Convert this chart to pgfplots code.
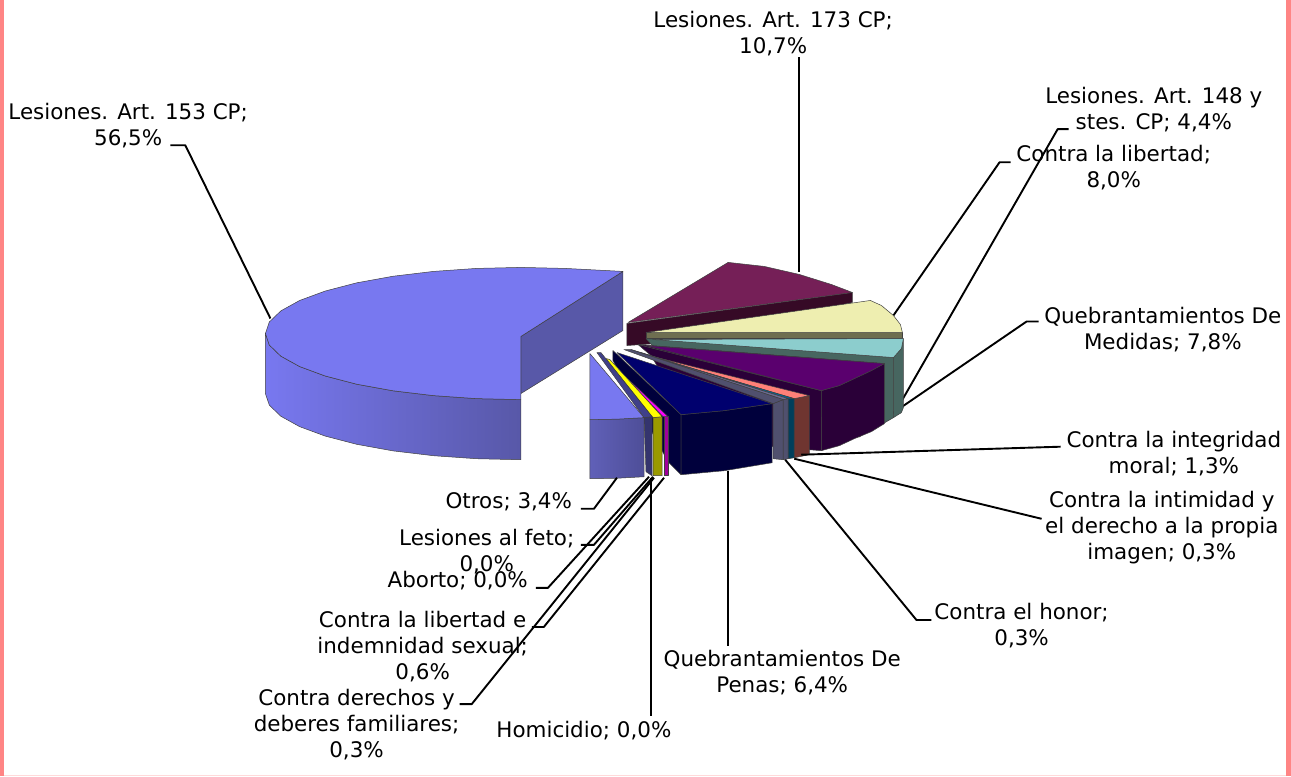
\documentclass[border=0pt]{standalone}
\usepackage{pgfplots}
\pgfplotsset{compat=1.18}
\usepackage{fontspec}
\setmainfont{DejaVu Sans}
\definecolor{bigT}{HTML}{7878F0}\definecolor{bigS}{HTML}{5858A8}
\definecolor{marT}{HTML}{751F57}\definecolor{marS}{HTML}{360A26}
\definecolor{creT}{HTML}{EEEEB0}\definecolor{creS}{HTML}{6E6E50}
\definecolor{teaT}{HTML}{8CCDCD}\definecolor{teaS}{HTML}{476660}
\definecolor{purT}{HTML}{5A006E}\definecolor{purS}{HTML}{2A0038}
\definecolor{salT}{HTML}{FF8078}\definecolor{salS}{HTML}{6F3530}
\definecolor{bluT}{HTML}{006699}\definecolor{bluS}{HTML}{003F5C}
\definecolor{gryT}{HTML}{6A6A90}\definecolor{gryS}{HTML}{50506E}
\definecolor{navT}{HTML}{00006E}\definecolor{navS}{HTML}{00003C}
\definecolor{magT}{HTML}{FF00FF}\definecolor{magS}{HTML}{A0009A}
\definecolor{yelT}{HTML}{FFFF00}\definecolor{yelS}{HTML}{9A9A00}
\definecolor{slaT}{HTML}{40408A}\definecolor{slaS}{HTML}{34346E}
\definecolor{otrL}{HTML}{6060B8}\definecolor{otrR}{HTML}{4E4E98}
\definecolor{frame}{HTML}{FF8585}
\newcommand\poly[2]{\addplot[fill=#1,draw=black!75,line width=.5pt,line join=round] coordinates {#2} --cycle;}
\newcommand\grad[3]{\addplot[left color=#1,right color=#2,draw=black!75,line width=.5pt,line join=round] coordinates {#3} --cycle;}
\newcommand\lead[1]{\addplot[black,line width=1.9pt,line join=round] coordinates {#1};}
\newcommand\lab[2]{\node[align=center,font=\fontsize{21.4}{26}\selectfont,inner sep=0pt,yshift=-0.8pt] at (axis cs:#1) {#2};}
\begin{document}
\begin{tikzpicture}
\begin{axis}[scale only axis,width=1291pt,height=775pt,xmin=0,xmax=1291,ymin=0,ymax=775,y dir=reverse,hide axis,clip=false]
% frame
\addplot[fill=frame,draw=none] coordinates {(0,0)(3.5,0)(3.5,775)(0,775)} --cycle;
\addplot[fill=frame,draw=none] coordinates {(1284,0)(1289,0)(1289,775)(1284,775)} --cycle;
\addplot[fill=frame!30,draw=none] coordinates {(3.5,773.5)(1284,773.5)(1284,775)(3.5,775)} --cycle;
% leader lines behind
\lead{(170,145)(185,145)(270,318)}
\lead{(798,57)(798,272)}
\lead{(1009,162)(998,162)(892,315)}
\lead{(1067,129)(1056,129)(897,406)}
\lead{(1037,321)(1025,321)(857,436)}
% Lesiones 153
\poly{bigS}{(520,336)(622,271)(622,330)(520,393)}
\grad{bigT}{bigS}{(265,333)(268.9,344.5)(280.4,355.6)(299.2,366)(324.7,375.4)(356.1,383.6)(392.5,390.2)(432.8,395)(475.7,398)(520,399)(520,459)(475.7,458)(432.8,455)(392.5,450.2)(356.1,443.6)(324.7,435.4)(299.2,426)(280.4,415.6)(268.9,404.5)(265,393)}
\poly{bigT}{(520,336)(622,271)(564.3,268)(520,267)(475.7,268)(432.8,271)(392.5,275.8)(356.1,282.4)(324.7,290.6)(299.2,300)(280.4,310.4)(268.9,321.5)(265,333)(268.9,344.5)(280.4,355.6)(299.2,366)(324.7,375.4)(356.1,383.6)(392.5,390.2)(432.8,395)(475.7,398)(520,399)}
% Lesiones 173
\poly{marS}{(626,323)(851,292)(851,302)(700,340)(626,345)}
\poly{marT}{(627,322)(727,262)(763,266)(798,274)(830,284)(851,292)}
% Contra la libertad
\poly{creS}{(645,332)(901,332)(901,338)(645,338)}
\poly{creT}{(645,332)(869,300)(880,305)(892,315)(899,324)(901,332)}
% Lesiones 148
\poly{teaS}{(645,338)(892,357)(892,417)(880,424)(700,400)}
\poly{teaS}{(892,357)(900,348)(902,338)(902,407)(900,412)(892,417)}
\poly{teaT}{(652,339)(902,338)(900,348)(892,357)}
% Medidas
\poly{purS}{(637,344)(820,390)(820,450)(700,440)(650,355)}
\poly{purS}{(820,390)(838,385)(853,378)(870,370)(883,363)(883,423)(870,431)(853,438)(838,445)(820,450)}
\poly{purS}{(637,344)(883,363)(820,390)}
\poly{purT}{(645,345)(883,363)(870,370)(853,378)(838,385)(820,390)}
% integridad moral
\poly{salS}{(793,398)(808,395)(808,454)(793,457)}
\poly{salT}{(648,355)(808,395)(793,398)}
% intimidad
\poly{bluS}{(787,398)(793,398)(793,457)(787,458)}
\poly{bluT}{(640,352)(648,355)(793,398)(787,398)}
% honor
\poly{gryS}{(782,399)(787,398)(787,458)(782,459)}
\poly{gryT}{(630,349)(640,352)(787,398)(782,399)}
\poly{gryS}{(772,403)(782,399)(782,459)(772,458)}
\poly{gryS}{(623,349)(630,349)(782,399)(772,403)}
% Penas
\poly{navS}{(612,350)(680,414)(680,474)(667,461)(612,360)}
\poly{navS}{(680,414)(723,410)(771,403)(771,462)(723,470)(680,474)}
\poly{navT}{(616,352)(771,403)(723,410)(680,414)}
% indemnidad sexual
\poly{magS}{(663,416)(667,416)(667,475)(663,475)}
\poly{magT}{(615,367)(620,372)(667,416)(662,416)}
% familiares
\poly{yelS}{(652,417)(661,416)(661,475)(652,475)}
\poly{yelT}{(605,358)(609,359)(661,416)(652,417)}
% slate
\poly{slaS}{(643,417)(651,416)(651,475)(645,471)}
\poly{slaT}{(596,352)(600,352)(651,416)(643,417)}
% Otros
\grad{otrL}{otrR}{(589,419)(616,418.5)(643,417)(643,476)(616,477.5)(589,478)}
\poly{bigT}{(589,353)(643,417)(616,418.5)(589,419)}
% remaining leaders
\lead{(1059,446)(800,454)}
\lead{(1040,518)(793,458)}
\lead{(930,619)(915,619)(784,459)}
\lead{(727,470)(727,645)}
\lead{(650,477)(650,715)}
\lead{(580,508)(593,508)(616,477)}
\lead{(580,544)(593,544)(652,476)}
\lead{(535,587)(547,587)(648,476)}
\lead{(531,626)(543,626)(663,477)}
\lead{(459,703)(471,703)(653,477)}
% labels
\lab{772,33}{Lesiones. Art. 173 CP;\\10,7\%}
\lab{1152,109}{Lesiones. Art. 148 y\\stes. CP; 4,4\%}
\lab{1112,167}{Contra la libertad;\\8,0\%}
\lab{1161,328}{Quebrantamientos De\\Medidas; 7,8\%}
\lab{1172,452}{Contra la integridad\\moral; 1,3\%}
\lab{1160,526}{Contra la intimidad y\\el derecho a la propia\\imagen; 0,3\%}
\lab{1020,624}{Contra el honor;\\0,3\%}
\lab{781,671}{Quebrantamientos De\\Penas; 6,4\%}
\lab{583,729}{Homicidio; 0,0\%}
\lab{356,723}{Contra derechos y\\deberes familiares;\\0,3\%}
\lab{422,645}{Contra la libertad e\\indemnidad sexual;\\0,6\%}
\lab{486,550}{Lesiones al feto;\\0,0\%}
\lab{457,579}{Aborto; 0,0\%}
\lab{508,500}{Otros; 3,4\%}
\lab{128,125}{Lesiones. Art. 153 CP;\\56,5\%}
\end{axis}
\end{tikzpicture}
\end{document}
